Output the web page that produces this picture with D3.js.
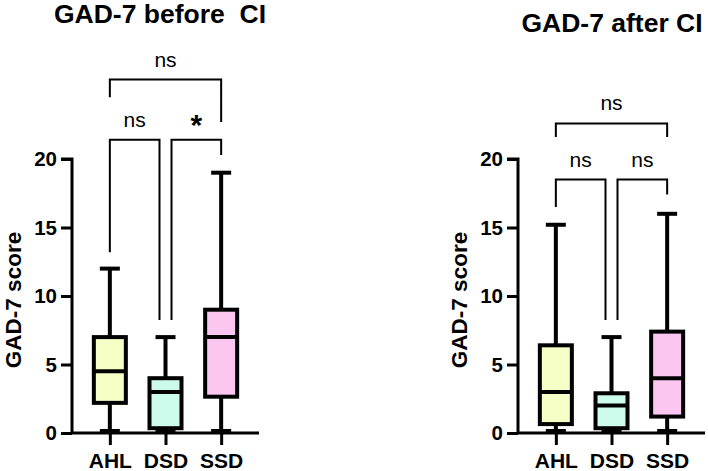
<!DOCTYPE html>
<html>
<head>
<meta charset="utf-8">
<script src="https://cdn.jsdelivr.net/npm/d3@7"></script>
<style>
  body { margin: 0; background: #fff; }
  svg text { font-family: "Liberation Sans", Arial, sans-serif; }
</style>
</head>
<body>
<svg id="chart" width="708" height="471"></svg>
<script>
const groups = ['AHL', 'DSD', 'SSD'];
const fills = ['#f5ffc6', '#cdfcec', '#fbc6f0'];
const yTicks = [0, 5, 10, 15, 20];

// box stats: [min, q1, median, q3, max]
const before = [
  [0, 2.2, 4.5, 7, 12],
  [0, 0.35, 3, 4, 7],
  [0, 2.65, 7, 9, 19]
];
const after = [
  [0, 0.65, 3, 6.4, 15.2],
  [0, 0.35, 2, 2.9, 7],
  [0, 1.2, 4, 7.4, 16]
];

// brackets: from, to, level, left leg end, right leg end, label
const beforeBrackets = [
  ['AHL', 'DSD', 21.4, 13.2, 8.25, 'ns'],
  ['DSD', 'SSD', 21.4, 8.25, 20.3, '*'],
  ['AHL', 'SSD', 25.8, 24.5, 22.7, 'ns']
];
const afterBrackets = [
  ['AHL', 'DSD', 18.5, 16.5, 8.25, 'ns'],
  ['DSD', 'SSD', 18.5, 8.25, 17.4, 'ns'],
  ['AHL', 'SSD', 22.6, 21.6, 21.6, 'ns']
];

const svg = d3.select('#chart');

function panel(x0, title, titleX, titleY, stats, brackets) {
  const g = svg.append('g');
  const x = d3.scalePoint().domain(groups).range([x0, x0 + 187]).padding(0.68);
  const y = d3.scaleLinear().domain([0, 20]).range([433, 159]);
  const bw = 32, cw = 20;

  // y axis
  const ya = g.append('g').attr('transform', `translate(${x0},0)`)
    .call(d3.axisLeft(y).tickValues(yTicks).tickSize(11).tickPadding(4));
  ya.select('.domain').attr('stroke-width', 3).attr('d', `M-11,${y(20)}H0V${y(0)}`);
  ya.selectAll('.tick line').attr('stroke-width', 3);
  ya.selectAll('.tick text').attr('font-size', 20.5).attr('font-weight', 'bold')
    .attr('font-family', '"Liberation Sans", Arial, sans-serif');

  // x axis
  const xa = g.append('g').attr('transform', `translate(0,${y(0)})`)
    .call(d3.axisBottom(x).tickSize(12).tickPadding(8));
  xa.select('.domain').attr('stroke-width', 3).attr('d', `M${x0},0H${x0 + 187}`);
  xa.selectAll('.tick line').attr('stroke-width', 3);
  xa.selectAll('.tick text').attr('font-size', 21).attr('font-weight', 'bold')
    .attr('font-family', '"Liberation Sans", Arial, sans-serif');

  // boxes
  groups.forEach((k, i) => {
    const [mn, q1, md, q3, mx] = stats[i];
    const cx = x(k);
    const b = g.append('g').attr('stroke', '#000').attr('stroke-width', 4);
    b.append('line').attr('x1', cx).attr('x2', cx).attr('y1', y(mx)).attr('y2', y(mn));
    b.append('line').attr('x1', cx - cw / 2).attr('x2', cx + cw / 2).attr('y1', y(mx)).attr('y2', y(mx));
    b.append('line').attr('x1', cx - cw / 2).attr('x2', cx + cw / 2).attr('y1', y(mn) - 2).attr('y2', y(mn) - 2);
    b.append('rect').attr('x', cx - bw / 2).attr('width', bw)
      .attr('y', y(q3)).attr('height', y(q1) - y(q3)).attr('fill', fills[i]);
    b.append('line').attr('x1', cx - bw / 2).attr('x2', cx + bw / 2).attr('y1', y(md)).attr('y2', y(md));
  });

  // significance brackets
  brackets.forEach(([a, c, lv, l1, l2, lab]) => {
    const xa1 = x(a) + (a === 'DSD' ? 6 : 0);
    const xa2 = x(c) - (c === 'DSD' ? 6 : 0);
    g.append('path')
      .attr('d', `M${xa1},${y(l1)}V${y(lv)}H${xa2}V${y(l2)}`)
      .attr('fill', 'none').attr('stroke', '#000').attr('stroke-width', 2);
    const star = lab === '*';
    g.append('text')
      .attr('x', (xa1 + xa2) / 2).attr('y', y(lv) - (star ? 5 : 13))
      .attr('text-anchor', 'middle')
      .attr('font-size', star ? 30 : 21)
      .attr('font-weight', star ? 'bold' : 'normal')
      .text(lab);
  });

  // titles
  g.append('text').attr('x', titleX).attr('y', titleY).attr('text-anchor', 'middle')
    .attr('font-size', 26.5).attr('font-weight', 'bold').style('white-space', 'pre').text(title);
  g.append('text')
    .attr('transform', `translate(${x0 - 59},${(y(0) + y(20)) / 2 + 4}) rotate(-90)`)
    .attr('text-anchor', 'middle').attr('dy', '0.35em')
    .attr('font-size', 22.5).attr('font-weight', 'bold').text('GAD-7 score');
}

panel(72, 'GAD-7 before  CI', 160, 23, before, beforeBrackets);
panel(518, 'GAD-7 after CI', 612, 32, after, afterBrackets);
</script>
</body>
</html>
